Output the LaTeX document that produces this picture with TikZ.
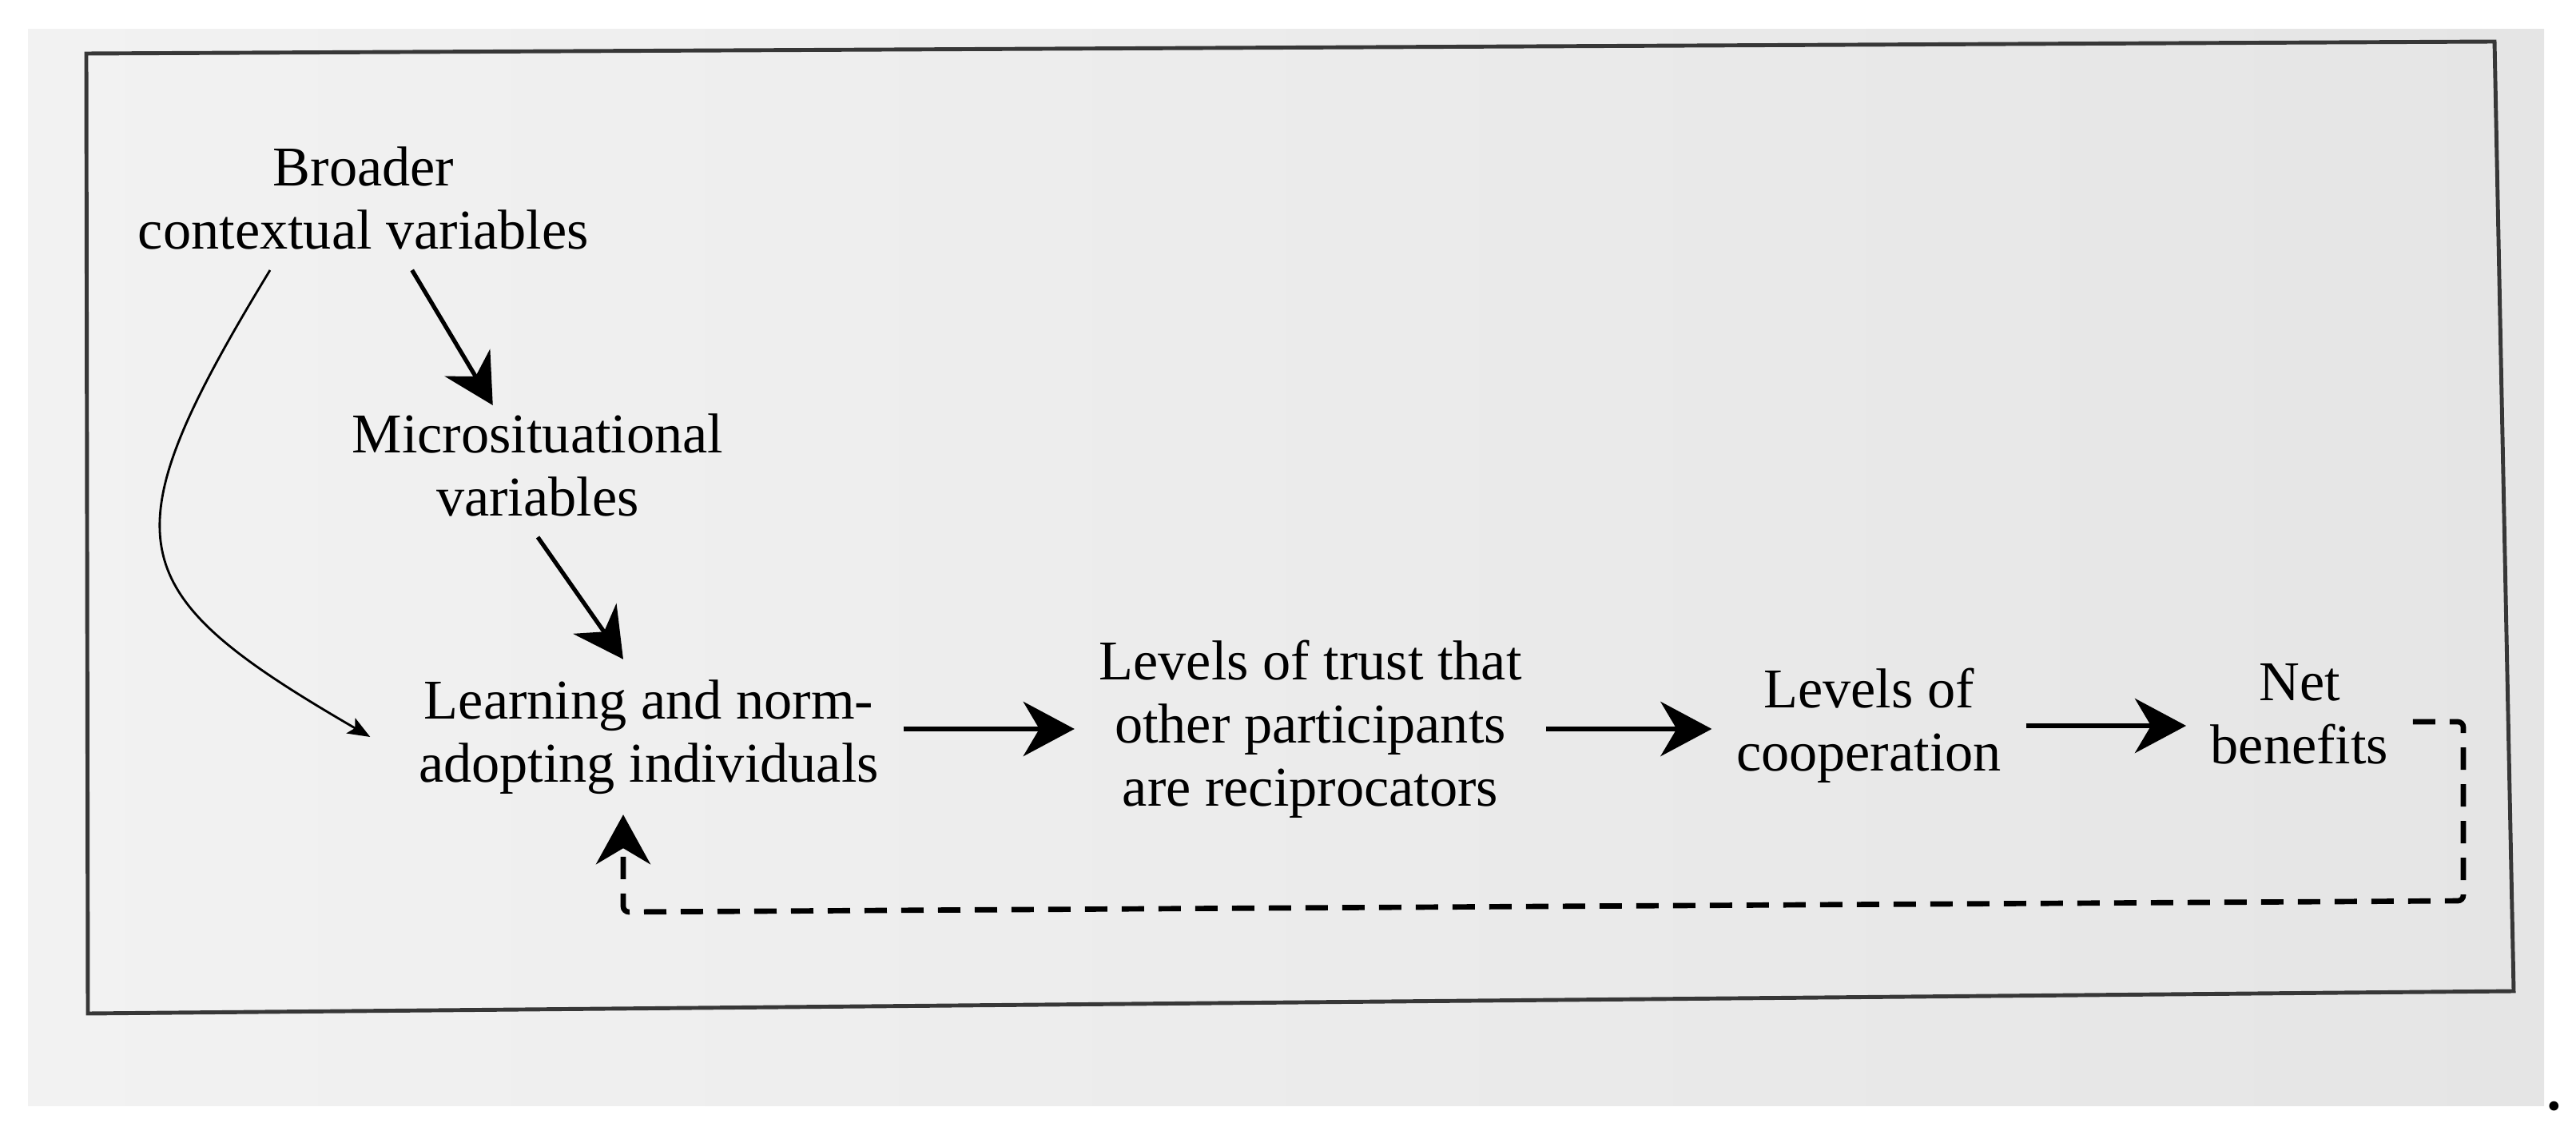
\documentclass[tikz,border=0pt]{standalone}
\usepackage{fontspec}
\setmainfont{Liberation Serif}
\usetikzlibrary{arrows.meta}
\definecolor{bgleft}{RGB}{242,242,242}
\definecolor{bgright}{RGB}{229,229,229}
\definecolor{framegray}{RGB}{55,55,55}
\tikzstyle{var} = [align=center, inner xsep=0.3cm, inner ysep=0.25cm, font=\fontsize{20}{22.5}\selectfont]
\tikzstyle{bigarrow} = [-{Stealth[length=0.64cm,width=0.68cm,inset=0.2cm]}, line width=1.9pt]
\tikzstyle{diagarrow} = [-{Stealth[length=0.62cm,width=0.66cm,inset=0.2cm]}, line width=1.5pt]
\tikzstyle{thinarrow} = [-{Stealth[length=0.28cm,width=0.22cm,inset=0.06cm]}, line width=0.8pt]
\tikzstyle{feedback} = [-{Stealth[length=0.62cm,width=0.68cm,inset=0.2cm]}, line width=1.9pt, dash pattern=on 0.28cm off 0.18cm, rounded corners=2pt]

\begin{document}
\begin{tikzpicture}

\useasboundingbox (0,0) rectangle (32.24,-14.15);
\fill[left color=bgleft, right color=bgright] (0.35,-0.37) rectangle (31.84,-13.83);
\draw[framegray, line width=1.4pt] (1.08,-0.67) -- (31.22,-0.52) -- (31.46,-12.40) -- (1.10,-12.68) -- cycle;

\node (broad) [var] at (4.55,-2.48) {Broader\\contextual variables};
\node (micro) [var] at (6.73,-5.82) {Microsituational\\variables};
\node (learn) [var] at (8.12,-9.22) {Learning and norm-\\adopting individuals};
\node (trust) [var] at (16.40,-9.12) {Levels of trust that\\other participants\\are reciprocators};
\node (coop) [var] at (23.39,-9.08) {Levels of\\cooperation};
\node (net) [var] at (28.78,-8.93) {Net\\benefits};

\draw[diagarrow] (broad.-56) -- ([yshift=-0.15cm]micro.122);
\draw[diagarrow] (micro.south) -- ([xshift=-0.32cm]learn.north);
\draw[thinarrow] ([xshift=-1.17cm]broad.south) .. controls (1.30,-6.80) and (1.50,-7.40) .. ([xshift=-0.3cm]learn.west);

\draw[bigarrow] (learn.east |- trust.west) -- (trust.west);
\draw[bigarrow] (trust.east) -- (trust.east -| coop.west);
\draw[bigarrow] (coop.east) -- (coop.east -| net.west);

% feedback loop
\coordinate (fbstart) at ([yshift=-0.1cm]net.east);
\coordinate (fbright) at (30.83,-11.27);
\coordinate (fbleft) at (7.80,-11.41);
\draw[feedback] (fbstart) -- (fbstart -| fbright) -- (fbright) -- (fbleft) -- (fbleft |- learn.south);

\node (dot) [anchor=base, inner sep=0pt, font=\fontsize{28}{30}\selectfont] at (31.97,-13.88) {.};

\end{tikzpicture}
\end{document}
